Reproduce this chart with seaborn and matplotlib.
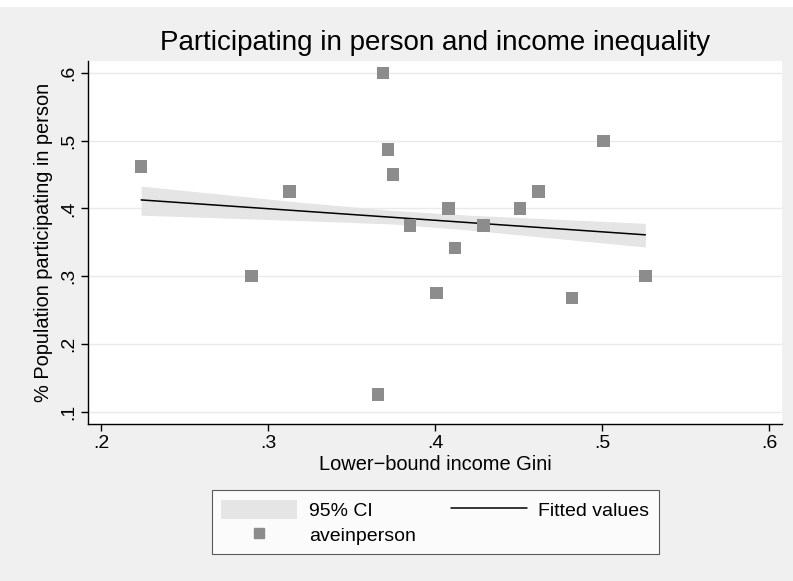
import matplotlib
matplotlib.use("Agg")
import matplotlib.pyplot as plt
import seaborn as sns
import pandas as pd
from matplotlib.patches import Patch, Rectangle
from matplotlib.lines import Line2D

# points
gini = [0.224, 0.290, 0.313, 0.366, 0.369, 0.372, 0.375, 0.385, 0.401,
        0.408, 0.412, 0.429, 0.451, 0.462, 0.482, 0.501, 0.526]
inperson = [0.462, 0.300, 0.425, 0.125, 0.600, 0.487, 0.450, 0.375, 0.275,
            0.400, 0.342, 0.375, 0.400, 0.425, 0.268, 0.500, 0.300]

# 95% CI band edges
ci_x = [0.224, 0.320, 0.375, 0.421, 0.526]
ci_lo = [0.390, 0.382, 0.377, 0.368, 0.343]
ci_hi = [0.433, 0.409, 0.397, 0.390, 0.378]

x_ticks = [0.2, 0.3, 0.4, 0.5, 0.6]
x_labels = [".2", ".3", ".4", ".5", ".6"]
y_ticks = [0.1, 0.2, 0.3, 0.4, 0.5, 0.6]
y_labels = [".1", ".2", ".3", ".4", ".5", ".6"]

df = pd.DataFrame({"gini": gini, "aveinperson": inperson})

sns.set_style("white")
plt.rcParams["font.family"] = ["Liberation Sans", "DejaVu Sans"]
plt.rcParams["text.color"] = "black"
plt.rcParams["axes.labelcolor"] = "black"
plt.rcParams["xtick.color"] = "black"
plt.rcParams["ytick.color"] = "black"

bg = "#f0f0f0"
band_col = "#e5e5e5"
pt_col = "#8c8c8c"

fig = plt.figure(figsize=(7.93, 5.81), dpi=100, facecolor=bg)
# thin white strip along the top edge
fig.patches.append(Rectangle((0, 1 - 5.5 / 581), 1, 5.5 / 581,
                             transform=fig.transFigure, color="white", zorder=0))
ax = fig.add_axes([0.111, 0.270, 0.875, 0.625])
ax.set_facecolor("white")

ax.fill_between(ci_x, ci_lo, ci_hi, color=band_col, lw=0, zorder=1)
sns.regplot(data=df, x="gini", y="aveinperson", ci=None, scatter=False,
            truncate=True, line_kws={"color": "black", "lw": 1.1, "zorder": 2},
            ax=ax)
sns.scatterplot(data=df, x="gini", y="aveinperson", marker="s", s=80,
                color=pt_col, edgecolor="none", zorder=3, ax=ax)

ax.set_xlim(0.1922, 0.6078)
ax.set_ylim(0.0815, 0.6177)
ax.set_xticks(x_ticks)
ax.set_xticklabels(x_labels)
ax.set_yticks(y_ticks)
ax.set_yticklabels(y_labels, rotation=90, va="center")
ax.grid(axis="y", color="#eaeaea", lw=1)
ax.grid(axis="x", visible=False)
ax.set_axisbelow(True)

for s in ["top", "right"]:
    ax.spines[s].set_visible(False)
for s in ["left", "bottom"]:
    ax.spines[s].set_color("black")
    ax.spines[s].set_linewidth(1)
ax.tick_params(axis="both", direction="out", length=5, width=1,
               color="black", labelsize=14, bottom=True, left=True, pad=3)

ax.set_xlabel("Lower\u2212bound income Gini", fontsize=14.4, labelpad=2)
ax.set_ylabel("% Population participating in person", fontsize=14.4, labelpad=5)
ax.set_title("Participating in person and income inequality", fontsize=20, pad=8)

handles = [Patch(facecolor=band_col, edgecolor="none"),
           Line2D([], [], marker="s", ls="none", color=pt_col, markersize=7),
           Line2D([], [], color="black", lw=1.1)]
labels = ["95% CI", "aveinperson", "Fitted values"]
leg = fig.legend(handles, labels, ncol=2, loc="center",
                 bbox_to_anchor=(0.549, 0.101), fontsize=14, frameon=True,
                 fancybox=False, edgecolor="#333333", facecolor="white",
                 handlelength=3.9, handleheight=1.1, columnspacing=1.8,
                 borderpad=0.5, labelspacing=0.25, handletextpad=0.6)
leg.get_frame().set_linewidth(0.8)

fig.savefig("out.png", dpi=100, facecolor=bg)
